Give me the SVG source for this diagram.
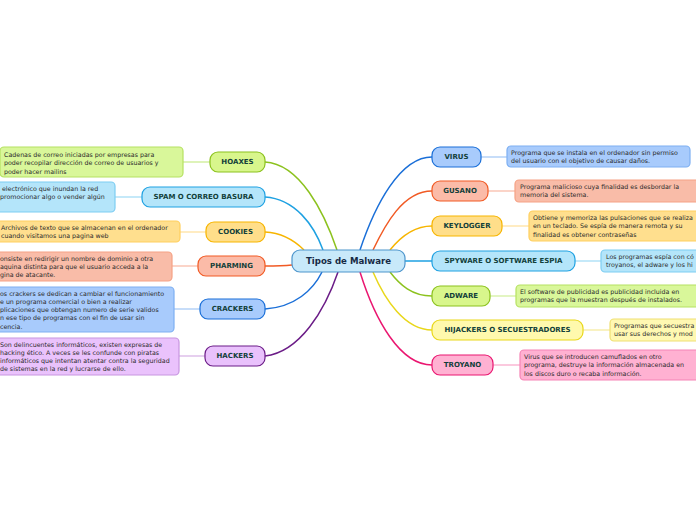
<svg xmlns="http://www.w3.org/2000/svg" width="696" height="520" viewBox="0 0 696 520">
<style>
.n{stroke-width:1.2}
.nt{font-family:"DejaVu Sans",Verdana,sans-serif;font-weight:bold;font-size:7px;fill:#123f3a;text-anchor:middle;dominant-baseline:central}
.tx{font-family:"DejaVu Sans",Verdana,sans-serif;font-size:6.3px;fill:#2a2a2a}
.c{fill:none;stroke-width:1.5}
.l{fill:none;stroke-width:1.2}
.g{fill:#d8f68c;stroke:#8cc21e}.gn{fill:#d9f79a;stroke:#b6e163}
.b{fill:#b4e5fa;stroke:#1ea1e2}.bn{fill:#b4e5fa;stroke:#7dcdf2}
.o{fill:#ffde8a;stroke:#f7b500}.on{fill:#ffdf8e;stroke:#ffcf5e}
.r{fill:#fbbba8;stroke:#f15a24}.rn{fill:#f9bca8;stroke:#f5a285}
.u{fill:#a8cbfc;stroke:#1a6fd8}.un{fill:#a8cbfc;stroke:#7eb0f2}
.p{fill:#e9c1fc;stroke:#6b1c87}.pn{fill:#eac2fc;stroke:#c795e0}
.y{fill:#fff9ad;stroke:#e9d71a}.yn{fill:#fff8b2;stroke:#f0e072}
.k{fill:#ffb1d2;stroke:#ea1670}.kn{fill:#ffb1d2;stroke:#f584b5}
</style>
<g id="connectors">
<path class="c" stroke="#8cc21e" d="M265,162 C300,164 324,212 337,250"/>
<path class="c" stroke="#1ea1e2" d="M265,197 C295,199 314,225 323,250"/>
<path class="c" stroke="#f7b500" d="M265,232 C284,233 296,242 304,250"/>
<path class="c" stroke="#f15a24" d="M292,265 C282,266 275,266 265,266"/>
<path class="c" stroke="#1a6fd8" d="M265,309 C295,307 313,290 322,272"/>
<path class="c" stroke="#6b1c87" d="M265,356 C300,352 325,310 338,272"/>
<path class="c" stroke="#1a6fd8" d="M432,157 C400,157 375,205 360,250"/>
<path class="c" stroke="#f15a24" d="M432,191 C403,191 385,225 373,250"/>
<path class="c" stroke="#f7b500" d="M432,226 C412,226 398,240 390,250"/>
<path class="c" stroke="#1ea1e2" d="M405,261 L432,261"/>
<path class="c" stroke="#8cc21e" d="M390,272 C400,285 412,296 432,296"/>
<path class="c" stroke="#e9d71a" d="M373,272 C385,300 405,330 432,330"/>
<path class="c" stroke="#ea1670" d="M360,272 C375,320 400,365 432,365"/>
<path class="l" stroke="#c9ec8a" d="M183,162 L210,162"/>
<path class="l" stroke="#9fdaf5" d="M115,197 L142,197"/>
<path class="l" stroke="#ffe09a" d="M180,232 L206,232"/>
<path class="l" stroke="#f8b8a3" d="M172,266 L198,266"/>
<path class="l" stroke="#a2c6f5" d="M174,309 L200,309"/>
<path class="l" stroke="#d5b0e5" d="M179,356 L205,356"/>
<path class="l" stroke="#a2c6f5" d="M481,157 L507,157"/>
<path class="l" stroke="#f8b8a3" d="M488,191 L515,191"/>
<path class="l" stroke="#ffe09a" d="M502,226 L529,226"/>
<path class="l" stroke="#9fdaf5" d="M575,261 L601,261"/>
<path class="l" stroke="#d0ef9a" d="M490,296 L516,296"/>
<path class="l" stroke="#f5ea9a" d="M583,330 L610,330"/>
<path class="l" stroke="#f8a6c8" d="M493,365 L520,365"/>
</g>
<g id="center">
<rect x="292" y="250" width="113" height="22" rx="8" fill="#c8e9fa" stroke="#4d95cc" stroke-width="1.2"/>
<text x="348.5" y="261" class="nt" style="font-size:8.6px;fill:#172a45">Tipos de Malware</text>
</g>
<g id="hoaxes">
<rect class="n g" x="210" y="152" width="55" height="20" rx="8"/>
<text class="nt" x="237.5" y="162">HOAXES</text>
<rect class="n gn" x="0" y="147" width="183" height="30" rx="4"/>
<text class="tx"><tspan x="4" y="157">Cadenas de correo iniciadas por empresas para</tspan><tspan x="4" y="165.3">poder recopilar dirección de correo de usuarios y</tspan><tspan x="4" y="173.6">poder hacer mailins</tspan></text>
</g>
<g id="spam">
<rect class="n b" x="142" y="187" width="123" height="20" rx="8"/>
<text class="nt" x="203.5" y="197">SPAM O CORREO BASURA</text>
<rect class="n bn" x="-10" y="182" width="125" height="30" rx="4"/>
<text class="tx"><tspan x="2" y="191">electrónico que inundan la red</tspan><tspan x="0" y="199.3">promocionar algo o vender algún</tspan></text>
</g>
<g id="cookies">
<rect class="n o" x="206" y="222" width="59" height="20" rx="8"/>
<text class="nt" x="235.5" y="232">COOKIES</text>
<rect class="n on" x="-10" y="221" width="190" height="21" rx="4"/>
<text class="tx"><tspan x="1" y="229.5">Archivos de texto que se almacenan en el ordenador</tspan><tspan x="1" y="237.8">cuando visitamos una pagina web</tspan></text>
</g>
<g id="pharming">
<rect class="n r" x="198" y="256" width="67" height="20" rx="8"/>
<text class="nt" x="231.5" y="266">PHARMING</text>
<rect class="n rn" x="-10" y="252" width="182" height="29" rx="4"/>
<text class="tx"><tspan x="0" y="260.5">onsiste en redirigir un nombre de dominio a otra</tspan><tspan x="0" y="268.8">aquina distinta para que el usuario acceda a la</tspan><tspan x="0" y="277.1">gina de atacante.</tspan></text>
</g>
<g id="crackers">
<rect class="n u" x="200" y="299" width="65" height="20" rx="8"/>
<text class="nt" x="232.5" y="309">CRACKERS</text>
<rect class="n un" x="-10" y="287" width="184" height="45" rx="4"/>
<text class="tx"><tspan x="0" y="295.5">os crackers se dedican a cambiar el funcionamiento</tspan><tspan x="0" y="303.8">e un programa comercial o bien a realizar</tspan><tspan x="0" y="312.1">plicaciones que obtengan numero de serie validos</tspan><tspan x="0" y="320.4">n ese tipo de programas con el fin de usar sin</tspan><tspan x="0" y="328.7">cencia.</tspan></text>
</g>
<g id="hackers">
<rect class="n p" x="205" y="346" width="60" height="20" rx="8"/>
<text class="nt" x="235" y="356">HACKERS</text>
<rect class="n pn" x="-10" y="338" width="189" height="37" rx="4"/>
<text class="tx"><tspan x="0" y="346.5">Son delincuentes informáticos, existen expresas de</tspan><tspan x="0" y="354.8">hacking ético. A veces se les confunde con piratas</tspan><tspan x="0" y="363.1">informáticos que intentan atentar contra la seguridad</tspan><tspan x="0" y="371.4">de sistemas en la red y lucrarse de ello.</tspan></text>
</g>
<g id="virus">
<rect class="n u" x="432" y="147" width="49" height="20" rx="8"/>
<text class="nt" x="456.5" y="157">VIRUS</text>
<rect class="n un" x="507" y="146" width="183" height="21" rx="4"/>
<text class="tx"><tspan x="511" y="154.5">Programa que se instala en el ordenador sin permiso</tspan><tspan x="511" y="162.8">del usuario con el objetivo de causar daños.</tspan></text>
</g>
<g id="gusano">
<rect class="n r" x="432" y="181" width="56" height="20" rx="8"/>
<text class="nt" x="460" y="191">GUSANO</text>
<rect class="n rn" x="515" y="180" width="190" height="22" rx="4"/>
<text class="tx"><tspan x="520" y="189">Programa malicioso cuya finalidad es desbordar la</tspan><tspan x="520" y="197.3">memoria del sistema.</tspan></text>
</g>
<g id="keylogger">
<rect class="n o" x="432" y="216" width="70" height="20" rx="8"/>
<text class="nt" x="467" y="226">KEYLOGGER</text>
<rect class="n on" x="529" y="211" width="180" height="30" rx="4"/>
<text class="tx"><tspan x="533" y="220">Obtiene y memoriza las pulsaciones que se realiza</tspan><tspan x="533" y="228.3">en un teclado. Se espía de manera remota y su</tspan><tspan x="533" y="236.6">finalidad es obtener contraseñas</tspan></text>
</g>
<g id="spyware">
<rect class="n b" x="432" y="251" width="143" height="20" rx="8"/>
<text class="nt" x="503.5" y="261">SPYWARE O SOFTWARE ESPIA</text>
<rect class="n bn" x="601" y="250" width="110" height="22" rx="4"/>
<text class="tx"><tspan x="606" y="258.5">Los programas espía con có</tspan><tspan x="606" y="266.8">troyanos, el adware y los hi</tspan></text>
</g>
<g id="adware">
<rect class="n g" x="432" y="286" width="58" height="20" rx="8"/>
<text class="nt" x="461" y="296">ADWARE</text>
<rect class="n gn" x="516" y="285" width="190" height="22" rx="4"/>
<text class="tx"><tspan x="520" y="294">El software de publicidad es publicidad incluida en</tspan><tspan x="520" y="302.3">programas que la muestran después de instalados.</tspan></text>
</g>
<g id="hijackers">
<rect class="n y" x="432" y="320" width="151" height="20" rx="8"/>
<text class="nt" x="507.5" y="330">HIJACKERS O SECUESTRADORES</text>
<rect class="n yn" x="610" y="319" width="100" height="22" rx="4"/>
<text class="tx"><tspan x="614" y="328">Programas que secuestra</tspan><tspan x="614" y="336.3">usar sus derechos y mod</tspan></text>
</g>
<g id="troyano">
<rect class="n k" x="432" y="355" width="61" height="20" rx="8"/>
<text class="nt" x="462.5" y="365">TROYANO</text>
<rect class="n kn" x="520" y="350" width="190" height="30" rx="4"/>
<text class="tx"><tspan x="524" y="359">Virus que se introducen camuflados en otro</tspan><tspan x="524" y="367.3">programa, destruye la información almacenada en</tspan><tspan x="524" y="375.6">los discos duro o recaba información.</tspan></text>
</g>
</svg>
